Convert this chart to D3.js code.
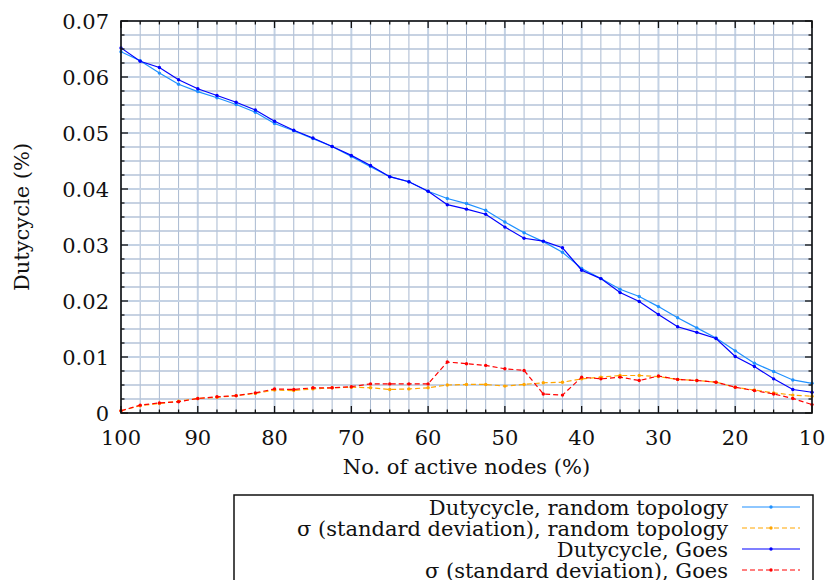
<!DOCTYPE html>
<html>
<head>
<meta charset="utf-8">
<script src="https://cdn.jsdelivr.net/npm/d3@7"></script>
<style>
  body { margin: 0; background: #fff; }
  svg text { font-family: "DejaVu Serif", serif; fill: #111; }
</style>
</head>
<body>
<div id="chart"></div>
<script>
// x positions: share of active nodes (%)
const activeNodes = [100, 97.5, 95, 92.5, 90, 87.5, 85, 82.5, 80, 77.5, 75, 72.5, 70, 67.5, 65, 62.5,
  60, 57.5, 55, 52.5, 50, 47.5, 45, 42.5, 40, 37.5, 35, 32.5, 30, 27.5, 25, 22.5, 20, 17.5, 15, 12.5, 10];

const dutyRandom = [0.0645, 0.0629, 0.0607, 0.0587, 0.0574, 0.0563, 0.0551, 0.0537, 0.0517, 0.0504, 0.0490,
  0.0476, 0.0458, 0.0440, 0.0422, 0.0413, 0.0396, 0.0383, 0.0374, 0.0362, 0.0341, 0.0322, 0.0306, 0.0287,
  0.0258, 0.0240, 0.0221, 0.0208, 0.0190, 0.0170, 0.0152, 0.0134, 0.0111, 0.0089, 0.0074, 0.0059, 0.0053];

const sdRandom = [0.0004, 0.0013, 0.0017, 0.0021, 0.0026, 0.0028, 0.0031, 0.0035, 0.0041, 0.0040, 0.0043,
  0.0045, 0.0046, 0.0045, 0.0042, 0.0043, 0.0045, 0.0050, 0.0051, 0.0051, 0.0048, 0.0051, 0.0054, 0.0055,
  0.0061, 0.0064, 0.0067, 0.0067, 0.0065, 0.0060, 0.0058, 0.0055, 0.0046, 0.0041, 0.0036, 0.0032, 0.0030];

const dutyGoes = [0.0652, 0.0628, 0.0617, 0.0595, 0.0579, 0.0567, 0.0555, 0.0541, 0.0521, 0.0505, 0.0491,
  0.0476, 0.0460, 0.0442, 0.0422, 0.0413, 0.0396, 0.0372, 0.0364, 0.0355, 0.0332, 0.0312, 0.0307, 0.0295,
  0.0255, 0.0240, 0.0215, 0.0199, 0.0176, 0.0154, 0.0144, 0.0133, 0.0101, 0.0083, 0.0061, 0.0042, 0.0037];

const sdGoes = [0.0004, 0.0014, 0.0018, 0.0020, 0.0026, 0.0029, 0.0031, 0.0036, 0.0043, 0.0042, 0.0045,
  0.0045, 0.0047, 0.0052, 0.0052, 0.0052, 0.0052, 0.0091, 0.0088, 0.0085, 0.0079, 0.0076, 0.0034, 0.0032,
  0.0064, 0.0061, 0.0064, 0.0058, 0.0066, 0.0060, 0.0058, 0.0055, 0.0046, 0.0040, 0.0034, 0.0026, 0.0015];

const seriesNames = [
  'Dutycycle, random topology',
  'σ (standard deviation), random topology',
  'Dutycycle, Goes',
  'σ (standard deviation), Goes'
];

const xTicks = [100, 90, 80, 70, 60, 50, 40, 30, 20, 10];
const yTicks = [0, 0.01, 0.02, 0.03, 0.04, 0.05, 0.06, 0.07];

const width = 832;
const height = 580;
const margin = { top: 21, right: 20, bottom: 167, left: 121 };
const plotW = width - margin.left - margin.right;
const plotH = height - margin.top - margin.bottom;

const series = [
  { name: seriesNames[0], values: dutyRandom, color: '#1e90ff', dash: null },
  { name: seriesNames[1], values: sdRandom, color: '#ffa500', dash: '5,3' },
  { name: seriesNames[2], values: dutyGoes, color: '#0000ff', dash: null },
  { name: seriesNames[3], values: sdGoes, color: '#ff0000', dash: '5,3' }
];

const svg = d3.select('#chart')
  .append('svg')
  .attr('width', width)
  .attr('height', height);

const x = d3.scaleLinear().domain([100, 10]).range([0, plotW]);
const y = d3.scaleLinear().domain([0, 0.07]).range([plotH, 0]);

const g = svg.append('g').attr('transform', `translate(${margin.left},${margin.top})`);

// grid: minor every 2.5 on x, every 0.0025 on y
const xMinor = d3.range(0, 37).map(i => 100 - i * 2.5);
const yMinor = d3.range(0, 29).map(i => i * 0.0025);

const grid = g.append('g');
grid.selectAll('.gx')
  .data(xMinor)
  .enter()
  .append('line')
  .attr('x1', d => x(d)).attr('x2', d => x(d))
  .attr('y1', 0).attr('y2', plotH)
  .attr('stroke', (d, i) => i % 4 === 0 ? '#c4d2e4' : '#a9b9d0')
  .attr('stroke-width', (d, i) => i % 4 === 0 ? 2 : 1);
grid.selectAll('.gy')
  .data(yMinor)
  .enter()
  .append('line')
  .attr('x1', 0).attr('x2', plotW)
  .attr('y1', d => y(d)).attr('y2', d => y(d))
  .attr('stroke', (d, i) => i % 4 === 0 ? '#c4d2e4' : '#b4c3d8')
  .attr('stroke-width', (d, i) => i % 4 === 0 ? 2 : 1.3);

// data lines
const line = d3.line()
  .x((d, i) => x(activeNodes[i]))
  .y(d => y(d));

series.forEach(s => {
  g.append('path')
    .datum(s.values)
    .attr('d', line)
    .attr('fill', 'none')
    .attr('stroke', s.color)
    .attr('stroke-width', 1.2)
    .attr('stroke-dasharray', s.dash);
  g.selectAll(null)
    .data(s.values)
    .enter()
    .append('circle')
    .attr('cx', (d, i) => x(activeNodes[i]))
    .attr('cy', d => y(d))
    .attr('r', 1.7)
    .attr('fill', s.color);
});

// ticks on all four sides (inward), major and minor
const ticks = g.append('g').attr('stroke', '#111');
xMinor.forEach((v, i) => {
  const len = i % 4 === 0 ? 7 : 3.5;
  ticks.append('line').attr('x1', x(v)).attr('x2', x(v)).attr('y1', plotH).attr('y2', plotH - len);
  ticks.append('line').attr('x1', x(v)).attr('x2', x(v)).attr('y1', 0).attr('y2', len);
});
yMinor.forEach((v, i) => {
  const len = i % 4 === 0 ? 7 : 3.5;
  ticks.append('line').attr('x1', 0).attr('x2', len).attr('y1', y(v)).attr('y2', y(v));
  ticks.append('line').attr('x1', plotW).attr('x2', plotW - len).attr('y1', y(v)).attr('y2', y(v));
});
ticks.selectAll('line').attr('stroke-width', 1.3);

// frame
g.append('rect')
  .attr('width', plotW)
  .attr('height', plotH)
  .attr('fill', 'none')
  .attr('stroke', '#111')
  .attr('stroke-width', 1.6);

// tick labels
g.selectAll('.xl')
  .data(xTicks)
  .enter()
  .append('text')
  .attr('x', d => x(d))
  .attr('y', plotH + 32)
  .attr('text-anchor', 'middle')
  .attr('font-size', 21)
  .text(d => d);

g.selectAll('.yl')
  .data(yTicks)
  .enter()
  .append('text')
  .attr('x', -12)
  .attr('y', d => y(d))
  .attr('dy', '0.36em')
  .attr('text-anchor', 'end')
  .attr('font-size', 21)
  .text(d => d === 0 ? '0' : d3.format('.2f')(d));

// axis titles
svg.append('text')
  .attr('x', margin.left + plotW / 2)
  .attr('y', 474)
  .attr('text-anchor', 'middle')
  .attr('font-size', 21)
  .text('No. of active nodes (%)');

svg.append('text')
  .attr('transform', `translate(29,${margin.top + plotH / 2}) rotate(-90)`)
  .attr('text-anchor', 'middle')
  .attr('font-size', 21)
  .text('Dutycycle (%)');

// legend
const legend = svg.append('g');
legend.append('rect')
  .attr('x', 234)
  .attr('y', 495)
  .attr('width', 579)
  .attr('height', 100)
  .attr('fill', '#fff')
  .attr('stroke', '#111')
  .attr('stroke-width', 1.5);

series.forEach((s, i) => {
  const cy = 507 + i * 21;
  legend.append('text')
    .attr('x', 728)
    .attr('y', cy)
    .attr('dy', '0.36em')
    .attr('text-anchor', 'end')
    .attr('font-size', 21)
    .text(s.name);
  legend.append('line')
    .attr('x1', 742).attr('x2', 800)
    .attr('y1', cy).attr('y2', cy)
    .attr('stroke', s.color)
    .attr('stroke-width', 1.2)
    .attr('stroke-dasharray', s.dash);
  legend.append('circle')
    .attr('cx', 771).attr('cy', cy)
    .attr('r', 1.7)
    .attr('fill', s.color);
});
</script>
</body>
</html>
